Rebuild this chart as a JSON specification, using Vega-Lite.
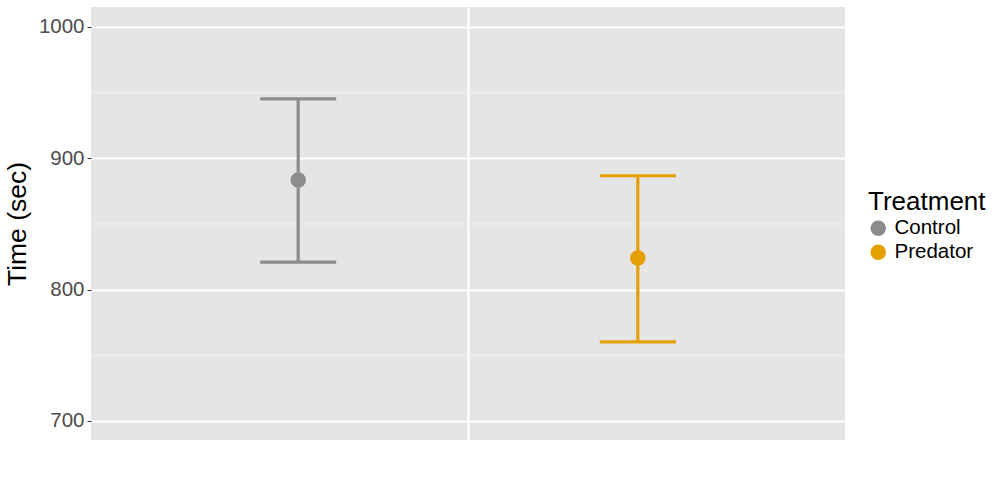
{
  "$schema": "https://vega.github.io/schema/vega-lite/v6.json",
  "width": 754,
  "height": 433,
  "autosize": {"type": "none"},
  "padding": {"left": 91, "top": 7, "right": 159, "bottom": 39},
  "background": "white",
  "config": {
    "view": {"fill": "#E5E5E5", "stroke": null},
    "font": "Liberation Sans",
    "axisY": {"grid": true, "gridColor": "white", "gridWidth": 2.2, "domain": false,
              "tickColor": "#333333", "tickSize": 4, "tickWidth": 1,
              "labelFontSize": 20.5, "labelColor": "#4D4D4D", "labelPadding": 3,
              "titleFontSize": 26.5, "titleFontWeight": "normal", "titleColor": "black",
              "titlePadding": 7}
  },
  "data": {
    "values": [
      {"Group": "All", "Treatment": "Control", "mean": 883.5, "lower": 821.0, "upper": 945.3},
      {"Group": "All", "Treatment": "Predator", "mean": 824.1, "lower": 760.2, "upper": 886.7}
    ]
  },
  "layer": [
    {
      "data": {"values": [{"v": 750}, {"v": 850}, {"v": 950}]},
      "mark": {"type": "rule", "color": "#F2F2F2", "strokeWidth": 1},
      "encoding": {
        "y": {"field": "v", "type": "quantitative", "title": "Time (sec)",
              "scale": {"domain": [685.5, 1015.2], "nice": false, "zero": false},
              "axis": {"title": "Time (sec)", "values": [700, 800, 900, 1000], "format": "d"}}
      }
    },
    {
      "mark": {"type": "rule", "strokeWidth": 3.2, "opacity": 1},
      "encoding": {
        "x": {"field": "Group", "type": "nominal",
              "scale": {"paddingInner": 0, "paddingOuter": 0},
              "axis": {"grid": true, "bandPosition": 0.5, "gridColor": "white", "gridWidth": 2.2,
                       "labels": false, "ticks": false, "domain": false, "title": null}},
        "xOffset": {"field": "Treatment", "type": "nominal",
                    "scale": {"paddingOuter": 0.11, "paddingInner": 0}},
        "y": {"field": "lower", "type": "quantitative", "title": "Time (sec)",
              "axis": {"title": "Time (sec)", "values": [700, 800, 900, 1000], "format": "d"}},
        "y2": {"field": "upper"},
        "color": {"field": "Treatment", "type": "nominal",
                  "scale": {"domain": ["Control", "Predator"], "range": ["#8C8C8C", "#E69F00"]},
                  "legend": {"title": "Treatment", "orient": "none", "legendX": 777, "legendY": 182,
                             "titleFontSize": 26, "titleFontWeight": "normal", "titleColor": "black",
                             "labelFontSize": 20.5, "labelColor": "black", "symbolType": "circle",
                             "symbolSize": 240, "symbolStrokeWidth": 0, "rowPadding": 3,
                             "titlePadding": 3, "labelOffset": 6,
                             "encode": {"symbols": {"update": {"fill": {"scale": "color", "field": "value"}, "opacity": {"value": 1}}}}}}
      }
    },
    {
      "mark": {"type": "tick", "thickness": 3.2, "size": 76, "opacity": 1},
      "encoding": {
        "x": {"field": "Group", "type": "nominal"},
        "xOffset": {"field": "Treatment", "type": "nominal"},
        "y": {"field": "lower", "type": "quantitative", "title": "Time (sec)"},
        "color": {"field": "Treatment", "type": "nominal"}
      }
    },
    {
      "mark": {"type": "tick", "thickness": 3.2, "size": 76, "opacity": 1},
      "encoding": {
        "x": {"field": "Group", "type": "nominal"},
        "xOffset": {"field": "Treatment", "type": "nominal"},
        "y": {"field": "upper", "type": "quantitative", "title": "Time (sec)"},
        "color": {"field": "Treatment", "type": "nominal"}
      }
    },
    {
      "mark": {"type": "point", "filled": true, "opacity": 1, "size": 240},
      "encoding": {
        "x": {"field": "Group", "type": "nominal"},
        "xOffset": {"field": "Treatment", "type": "nominal"},
        "y": {"field": "mean", "type": "quantitative", "title": "Time (sec)"},
        "color": {"field": "Treatment", "type": "nominal"}
      }
    }
  ]
}
